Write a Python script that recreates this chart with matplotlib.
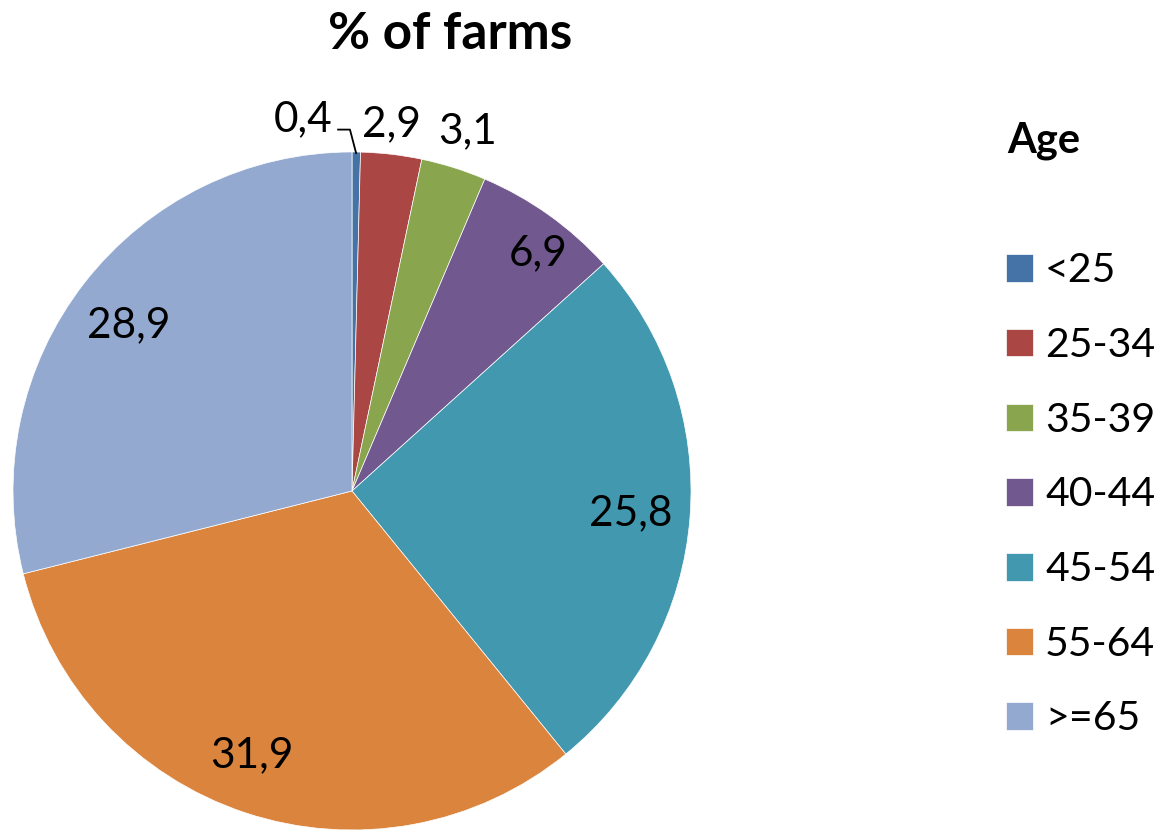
import matplotlib
matplotlib.use("Agg")
from matplotlib import pyplot as plt

# Share of farms by age of holder (%)
age_groups = ["<25", "25-34", "35-39", "40-44", "45-54", "55-64", ">=65"]
shares = [0.4, 2.9, 3.1, 6.9, 25.8, 31.9, 28.9]
colors = ["#4572a7", "#aa4643", "#89a54e", "#71588f", "#4198af", "#db843d", "#93a9cf"]
value_labels = ["0,4", "2,9", "3,1", "6,9", "25,8", "31,9", "28,9"]

plt.rcParams["font.family"] = ["Lato", "DejaVu Sans"]

fig = plt.figure(figsize=(11.6, 8.3), dpi=100)
ax = fig.add_axes([0.3034 - 0.2922, 0.0, 0.5845, 0.8169])

wedges, _ = ax.pie(
    shares,
    colors=colors,
    startangle=90,
    counterclock=False,
    radius=1.0,
    wedgeprops=dict(linewidth=0.5, edgecolor="white"),
)
ax.set_xlim(-1, 1)
ax.set_ylim(-1, 1)
ax.set_aspect("equal")
ax.axis("off")

# label positions in data units (pie radius = 1)
label_pos = [
    (-0.145, 1.096),
    (0.115, 1.083),
    (0.34, 1.06),
    (0.55, 0.70),
    (0.823, -0.066),
    (-0.295, -0.778),
    (-0.66, 0.488),
]
for (x, y), txt in zip(label_pos, value_labels):
    ax.text(x, y, txt, ha="center", va="center", fontsize=30.5, clip_on=False)

# leader line for the tiny <25 slice
ax.plot([-0.041, -0.006, 0.012], [1.066, 1.066, 0.997], color="black", lw=1.3, clip_on=False)

fig.text(0.388, 0.959, "% of farms", ha="center", va="center", fontsize=37, fontweight="bold")
fig.text(0.868, 0.831, "Age", ha="left", va="center", fontsize=30, fontweight="bold")

ax.legend(
    wedges,
    age_groups,
    loc="upper left",
    bbox_to_anchor=(0.867, 0.696),
    bbox_transform=fig.transFigure,
    frameon=False,
    fontsize=29.5,
    handlelength=0.66,
    handleheight=0.66,
    handletextpad=0.3,
    labelspacing=0.92,
    borderpad=0,
    borderaxespad=0,
)

fig.savefig("out.png", dpi=100)
